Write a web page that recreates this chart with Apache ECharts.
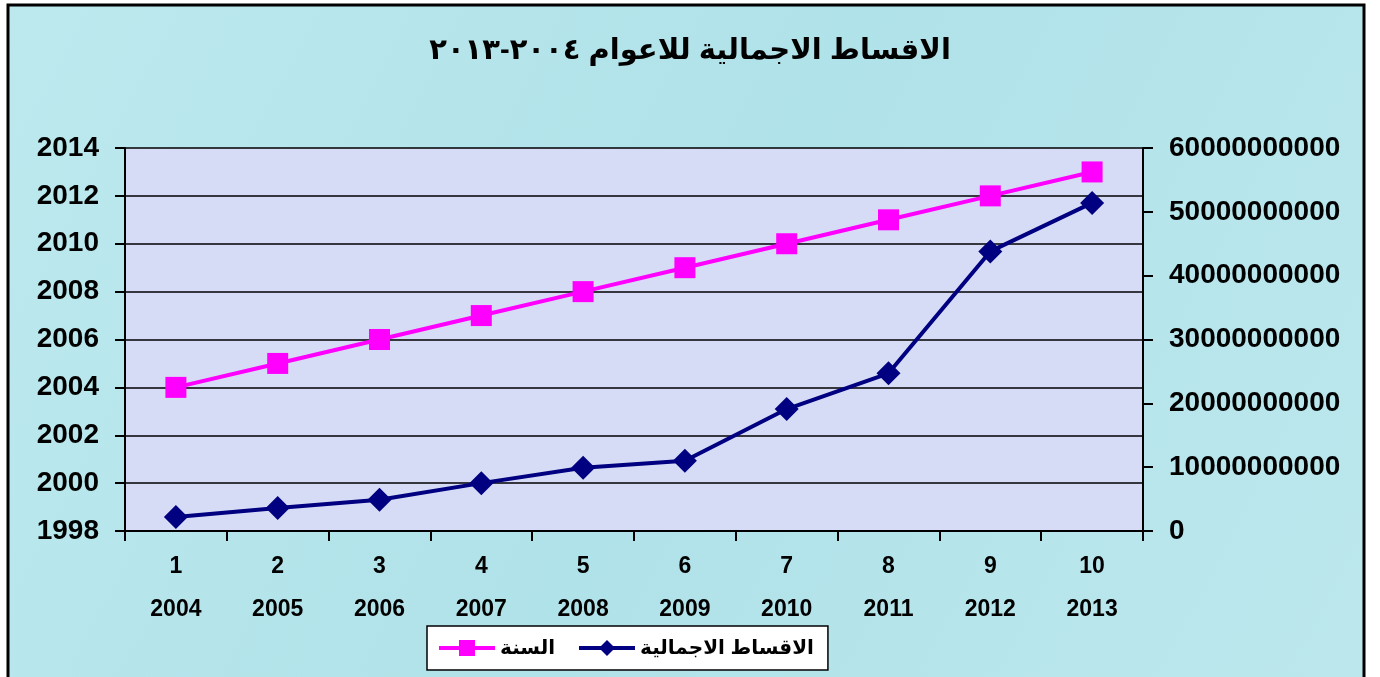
<!DOCTYPE html>
<html>
<head>
<meta charset="utf-8">
<script src="https://cdn.jsdelivr.net/npm/echarts@6/dist/echarts.min.js"></script>
<style>
  html, body { margin: 0; padding: 0; background: #fff; }
  #main { width: 1380px; height: 677px; }
</style>
</head>
<body>
<div id="main"></div>
<script>
var titleText = 'الاقساط الاجمالية للاعوام ٢٠٠٤-٢٠١٣';
var indexLabels = ['1', '2', '3', '4', '5', '6', '7', '8', '9', '10'];
var years = [2004, 2005, 2006, 2007, 2008, 2009, 2010, 2011, 2012, 2013];
var premiums = [2200000000, 3600000000, 4900000000, 7500000000, 9900000000,
                11000000000, 19100000000, 24700000000, 43800000000, 51400000000];
var leftTicks = { min: 1998, max: 2014, interval: 2 };
var rightTicks = { min: 0, max: 60000000000, interval: 10000000000 };

var fontFam = '"Liberation Sans", Arial, "DejaVu Sans", sans-serif';

var chartDom = document.getElementById('main');
var myChart = echarts.init(chartDom);
var option;

option = {
  backgroundColor: '#fff',
  graphic: [
    {
      type: 'rect',
      z: -10,
      silent: true,
      shape: { x: 8, y: 5, width: 1356, height: 700 },
      style: {
        fill: new echarts.graphic.LinearGradient(0, 0, 1, 1, [
          { offset: 0, color: '#bce9ee' },
          { offset: 0.5, color: '#b0e2e9' },
          { offset: 1, color: '#bce8ed' }
        ]),
        stroke: '#000',
        lineWidth: 3
      }
    }
  ],
  title: {
    text: titleText,
    left: 'center',
    top: 31,
    textStyle: {
      fontFamily: fontFam,
      fontWeight: 'bold',
      fontSize: 29,
      color: '#000'
    }
  },
  legend: {
    bottom: 7,
    left: 427,
    data: ['السنة', 'الاقساط الاجمالية'],
    backgroundColor: '#fff',
    borderColor: '#000',
    borderWidth: 1.5,
    borderRadius: 0,
    padding: [12, 14, 12, 10],
    itemGap: 22,
    itemWidth: 56,
    itemHeight: 20,
    lineStyle: { width: 4 },
    textStyle: {
      fontFamily: fontFam,
      fontWeight: 'bold',
      fontSize: 20,
      color: '#000'
    }
  },
  grid: {
    left: 125,
    right: 237,
    top: 148,
    bottom: 146,
    show: true,
    backgroundColor: '#d6dcf5',
    borderWidth: 0
  },
  xAxis: {
    type: 'category',
    data: indexLabels,
    boundaryGap: true,
    axisLine: { lineStyle: { color: '#000', width: 2 } },
    axisTick: { show: true, length: 10, lineStyle: { color: '#000', width: 2 } },
    axisLabel: {
      margin: 14,
      formatter: function (val, i) {
        return '{a|' + val + '}\n{b|' + years[i] + '}';
      },
      rich: {
        a: { fontFamily: fontFam, fontWeight: 'bold', fontSize: 23, color: '#000', lineHeight: 43 },
        b: { fontFamily: fontFam, fontWeight: 'bold', fontSize: 23, color: '#000', lineHeight: 43 }
      }
    }
  },
  yAxis: [
    {
      type: 'value',
      min: leftTicks.min,
      max: leftTicks.max,
      interval: leftTicks.interval,
      position: 'left',
      axisLine: { show: true, lineStyle: { color: '#000', width: 2 } },
      axisTick: { show: true, length: 10, lineStyle: { color: '#000', width: 2 } },
      splitLine: { show: true, lineStyle: { color: '#000', width: 1.5 } },
      axisLabel: {
        margin: 26,
        fontFamily: fontFam,
        fontWeight: 'bold',
        fontSize: 28,
        color: '#000',
        formatter: function (v) { return String(v); }
      }
    },
    {
      type: 'value',
      min: rightTicks.min,
      max: rightTicks.max,
      interval: rightTicks.interval,
      position: 'right',
      axisLine: { show: true, lineStyle: { color: '#000', width: 2 } },
      axisTick: { show: true, length: 10, lineStyle: { color: '#000', width: 2 } },
      splitLine: { show: false },
      axisLabel: {
        margin: 26,
        fontFamily: fontFam,
        fontWeight: 'bold',
        fontSize: 28,
        color: '#000',
        formatter: function (v) { return String(v); }
      }
    }
  ],
  series: [
    {
      name: 'السنة',
      type: 'line',
      yAxisIndex: 0,
      data: years,
      symbol: 'rect',
      symbolSize: 21,
      lineStyle: { color: '#ff00ff', width: 4 },
      itemStyle: { color: '#ff00ff' }
    },
    {
      name: 'الاقساط الاجمالية',
      type: 'line',
      yAxisIndex: 1,
      data: premiums,
      symbol: 'diamond',
      symbolSize: 24,
      lineStyle: { color: '#000080', width: 4 },
      itemStyle: { color: '#000080' }
    }
  ],
  animation: false
};
option && myChart.setOption(option);
</script>
</body>
</html>
